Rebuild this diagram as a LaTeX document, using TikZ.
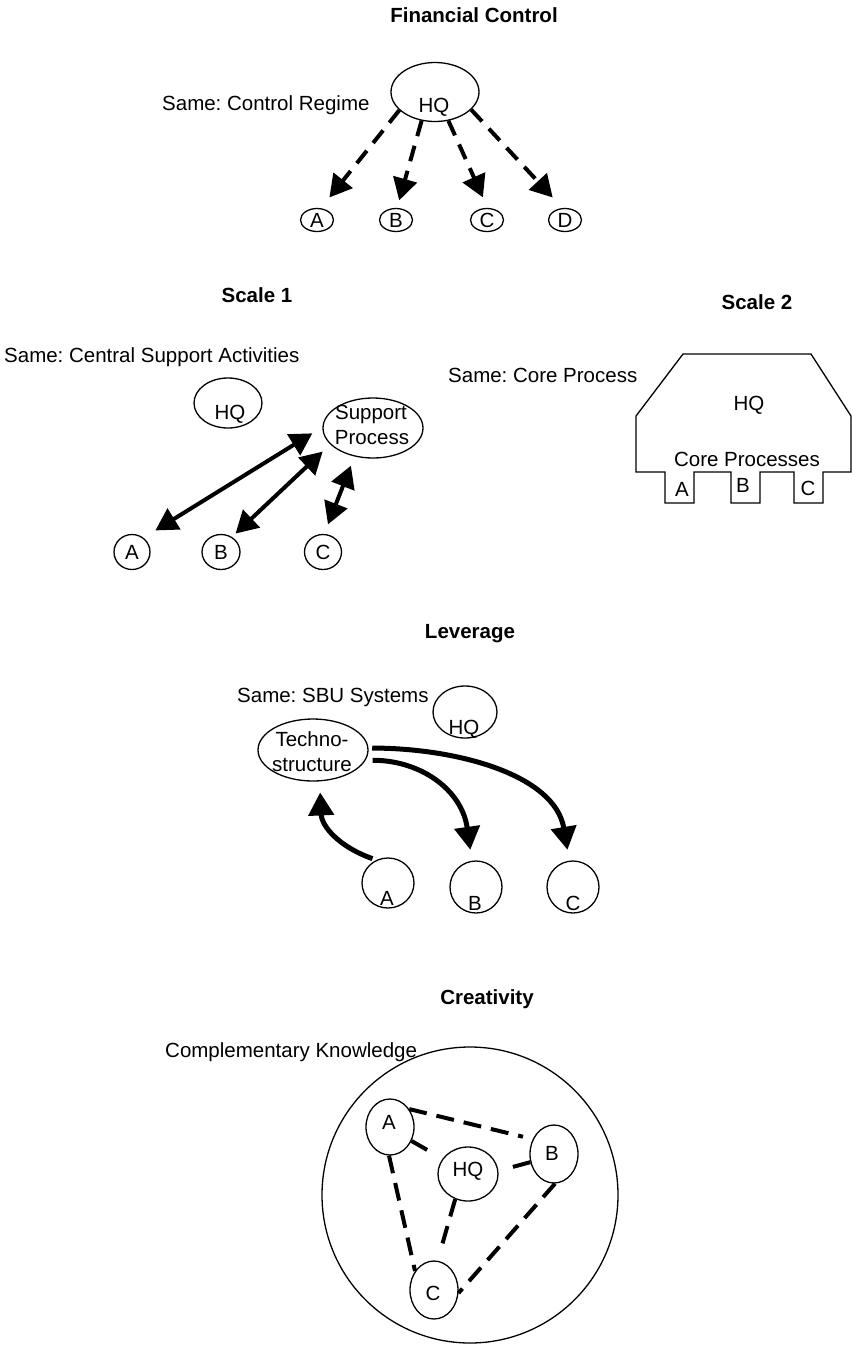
\documentclass[tikz,border=0pt]{standalone}
\usepackage{fontspec}
\setmainfont{Liberation Sans}
\usetikzlibrary{arrows.meta,shapes.geometric}
\frenchspacing
\tikzset{
  txt/.style={font=\fontsize{20.5}{24}\selectfont, inner sep=0pt, text height=14.7pt, text depth=0pt},
  ttl/.style={txt, font=\fontsize{20.5}{24}\selectfont\bfseries},
  lbl/.style={txt, anchor=west},
  ell/.style={draw, ellipse, line width=1.3pt, inner sep=0pt},
  dasharr/.style={line width=4pt, dash pattern=on 16pt off 10pt, -{Triangle[length=22pt,width=24pt]}},
  dblarr/.style={line width=4pt, {Triangle[length=22pt,width=24pt]}-{Triangle[length=22pt,width=24pt]}},
  curvarr/.style={line width=5pt, -{Triangle[length=23pt,width=25pt]}},
  dline/.style={line width=4pt, dash pattern=on 18pt off 10pt},
  shape2/.style={line width=1.3pt, line join=miter}
}
\begin{document}
\begin{tikzpicture}[x=1pt,y=-1pt]
\useasboundingbox (0,0) rectangle (852,1345);

% ---------- Financial Control ----------
\node[ttl] (t1) at (474,15) {Financial Control};
\node[lbl] (l1) at (162,103) {Same: Control Regime};
\node[ell, minimum width=88pt, minimum height=59pt] (fhq) at (435,92) {};
\node[txt] (fhqT) at (434,105) {HQ};
\node[ell, txt, minimum width=33pt, minimum height=23pt] (fa) at (317,220) {A};
\node[ell, txt, minimum width=33pt, minimum height=23pt] (fb) at (396,220) {B};
\node[ell, txt, minimum width=33pt, minimum height=23pt] (fc) at (487,220) {C};
\node[ell, txt, minimum width=33pt, minimum height=23pt] (fd) at (565,220) {D};
\draw[dasharr, shorten >=13.7pt] (fhq.-153) -- (fa.72);
\draw[dasharr, shorten >=7.8pt] (fhq.-115) -- (fb.85);
\draw[dasharr, shorten >=11.5pt] (fhq.-65) -- (fc.87);
\draw[dasharr, shorten >=14.3pt] (fhq.-26) -- (fd.102);

% ---------- Scale 1 ----------
\node[ttl] (t2) at (257,295) {Scale 1};
\node[lbl] (l2) at (4,355) {Same: Central Support Activities};
\node[ell, minimum width=68pt, minimum height=50pt] (shq) at (228,403) {};
\node[txt] (shqT) at (230,412) {HQ};
\node[ell, minimum width=100pt, minimum height=60pt] (sp) at (373,428) {};
\node[txt] (spT1) at (371,412) {Support};
\node[txt] (spT2) at (372,437) {Process};
\node[ell, txt, minimum width=36pt, minimum height=35pt] (sa) at (132,552) {A};
\node[ell, txt, minimum width=38pt, minimum height=35pt] (sb) at (221,552) {B};
\node[ell, txt, minimum width=37pt, minimum height=35pt] (sc) at (323,552) {C};
\draw[dblarr, shorten <=13.9pt, shorten >=11.8pt] (sa.51) -- (sp.179);
\draw[dblarr, shorten <=4.9pt, shorten >=10.4pt] (sb.54) -- (sp.-159);
\draw[dblarr, shorten <=10.2pt, shorten >=9.8pt] (sc.86) -- (sp.-123);

% ---------- Scale 2 ----------
\node[ttl] (t3) at (757,302) {Scale 2};
\node[lbl] (l3) at (448,375) {Same: Core Process};
\draw[shape2] (636,472) -- (665,472) -- (665,503) -- (694,503) -- (694,472)
  -- (731,472) -- (731,503) -- (760,503) -- (760,472) -- (794,472) -- (794,503)
  -- (823,503) -- (823,472) -- (851,472) -- (851,416) -- (811,354) -- (683,354)
  -- (636,416) -- cycle;
\node[txt] (s2hq) at (749,403) {HQ};
\node[txt] (s2core) at (747,459) {Core Processes};
\node[txt] (s2a) at (682,489) {A};
\node[txt] (s2b) at (743,485) {B};
\node[txt] (s2c) at (808,488) {C};

% ---------- Leverage ----------
\node[ttl] (t4) at (470,631) {Leverage};
\node[lbl] (l4) at (237,695) {Same: SBU Systems};
\node[ell, minimum width=64pt, minimum height=52pt] (lhq) at (465,712) {};
\node[txt] (lhqT) at (464,727) {HQ};
\node[ell, minimum width=110pt, minimum height=62pt] (tech) at (313,750) {};
\node[txt] (techT1) at (312,739) {Techno-};
\node[txt] (techT2) at (312,764) {structure};
\node[ell, minimum width=52pt, minimum height=50pt] (la) at (388,883) {};
\node[txt] (laT) at (387,898) {A};
\node[ell, minimum width=52pt, minimum height=52pt] (lb) at (476,887) {};
\node[txt] (lbT) at (475,903) {B};
\node[ell, minimum width=52pt, minimum height=52pt] (lc) at (573,887) {};
\node[txt] (lcT) at (573,903) {C};
\draw[curvarr, shorten <=3.7pt, shorten >=11pt] (tech.2) .. controls +(88,0) and +(-14.5,-86) .. (lc.98);
\draw[curvarr, shorten <=7pt, shorten >=11pt] (tech.-11) .. controls +(55,0) and +(-10,-71) .. (lb.99);
\draw[curvarr, shorten <=4pt, shorten >=11pt] (la.117) .. controls +(-37,-13) and +(2,45) .. (tech.-78);

% ---------- Creativity ----------
\node[ttl] (t5) at (487,997) {Creativity};
\node[lbl] (l5) at (165,1050) {Complementary Knowledge};
\node[ell, minimum width=296pt, minimum height=296pt] (big) at (470,1195) {};
\node[ell, minimum width=48pt, minimum height=56pt] (ca) at (390,1127) {};
\node[txt] (caT) at (389,1122) {A};
\node[ell, minimum width=60pt, minimum height=54pt] (chq) at (468,1174) {};
\node[txt] (chqT) at (468,1169) {HQ};
\node[ell, minimum width=48pt, minimum height=58pt] (cb) at (554,1154) {};
\node[txt] (cbT) at (552,1153) {B};
\node[ell, minimum width=48pt, minimum height=58pt] (cc) at (434,1290) {};
\node[txt] (ccT) at (433,1293) {C};
\draw[dline, shorten >=10pt] (ca.43) -- (cb.145);
\draw[dline, shorten >=14pt] (ca.-33) -- (chq.149);
\draw[dline] (ca.-92) -- (cc.135);
\draw[dline, shorten <=15pt] (chq.6) -- (cb.-161);
\draw[dline, shorten >=11pt] (chq.-117) -- (cc.83);
\draw[dline] (cb.-88) -- (cc.-7);
\end{tikzpicture}
\end{document}
